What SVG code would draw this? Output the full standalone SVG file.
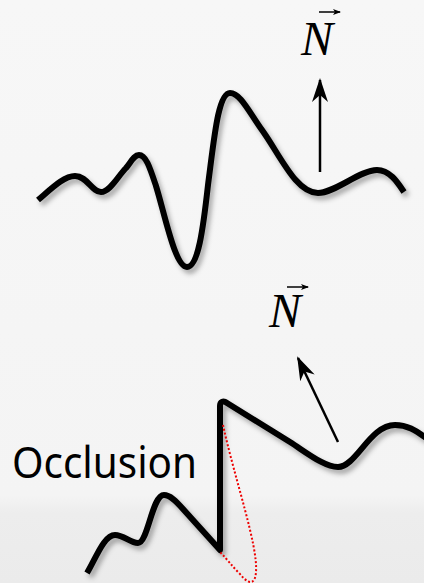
<svg xmlns="http://www.w3.org/2000/svg" width="424" height="583" viewBox="0 0 424 583">
<defs>
<linearGradient id="bg" x1="0" y1="0" x2="0" y2="1">
<stop offset="0" stop-color="#f7f7f7"/>
<stop offset="0.85" stop-color="#f4f4f4"/>
<stop offset="0.88" stop-color="#ededed"/>
<stop offset="1" stop-color="#ebebeb"/>
</linearGradient>
<filter id="sh" x="-10%" y="-10%" width="130%" height="130%">
<feDropShadow dx="3" dy="4" stdDeviation="2.4" flood-color="#000" flood-opacity="0.32"/>
</filter>
<marker id="ah" viewBox="0 0 24 16" refX="22" refY="8" markerWidth="24" markerHeight="16" markerUnits="userSpaceOnUse" orient="auto">
<path d="M0,0 L24,8 L0,16 L7,8 Z" fill="#000"/>
</marker>
<marker id="sa" viewBox="0 0 8 6" refX="7" refY="3" markerWidth="8" markerHeight="6" markerUnits="userSpaceOnUse" orient="auto">
<path d="M0,0 L8,3 L0,6 L2,3 Z" fill="#000"/>
</marker>
<style>
.curve{fill:none;stroke:#000;stroke-width:6;stroke-linecap:butt;stroke-linejoin:round}
.nlab{font-family:"Liberation Serif","Times New Roman",serif;font-style:italic;font-size:48px;fill:#000}
.vec{stroke:#000;stroke-width:1.5;fill:none}
.normal{stroke:#000;stroke-width:2.5;fill:none}
</style>
</defs>
<rect width="424" height="583" fill="url(#bg)"/>
<g id="top-surface" filter="url(#sh)">
<path class="curve" d="M38,200 C52,188 64,176 75,176 C87,176 92,192 101,192 C110,192 118,176 126,168 C131,162 134,155 139,155 C146,155 150,168 156,186 C165,215 175,267 187,267 C198,267 203,230 208,185 C214,140 218,93 230,93 C240,93 248,110 262,130 C280,155 296,193 318,193 C335,193 360,170 377,170 C390,170 398,183 404,192"/>
</g>
<g id="top-normal-label">
<text class="nlab" x="301" y="55">N</text>
<line class="vec" x1="319" y1="12" x2="340" y2="12" marker-end="url(#sa)"/>
</g>
<g id="bottom-surface" filter="url(#sh)">
<path class="curve" d="M87,573 C96,558 104,535 115,535 C124,535 130,543 138,543 C148,543 152,495 164,495 C170,495 176,501 183,509 L220,550 L220,406 C220,402 223,400 227,403 L290,442 C310,455 325,467 338,467 C356,467 370,425 395,425 C408,425 416,431 426,438"/>
</g>
<g id="occlusion-region">
<path d="M223,425 C235,480 258,545 256,572 C255,586 248,584 240,574 C232,566 226,558 220,552" fill="none" stroke="#e00" stroke-width="2" stroke-dasharray="2 2"/>
</g>
<g id="bottom-normal-label">
<text class="nlab" x="269" y="327">N</text>
<line class="vec" x1="287" y1="287" x2="308" y2="287" marker-end="url(#sa)"/>
</g>
<g id="occlusion-label">
<text x="12" y="478" font-family="'Noto Sans','Open Sans',sans-serif" font-size="43" textLength="185" lengthAdjust="spacingAndGlyphs" fill="#000">Occlusion</text>
</g>
<g id="connectors">
<line class="normal" x1="320" y1="172" x2="320" y2="80" marker-end="url(#ah)"/>
<line class="normal" x1="338" y1="442" x2="298" y2="358" marker-end="url(#ah)"/>
</g>
</svg>
